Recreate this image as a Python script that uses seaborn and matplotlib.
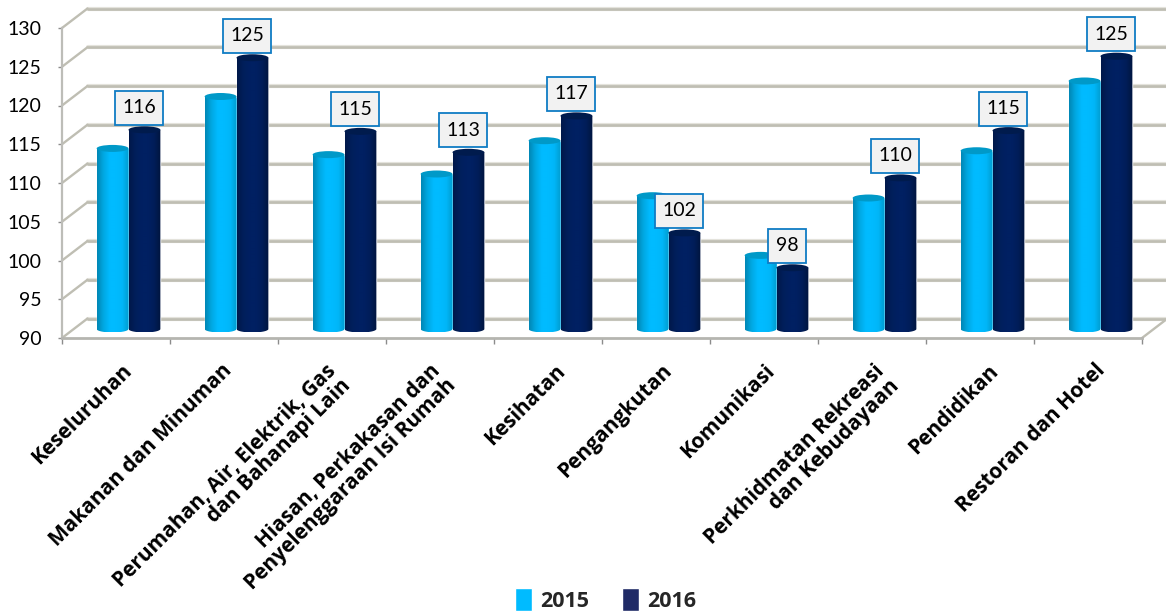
import numpy as np
import pandas as pd
import matplotlib
matplotlib.use("Agg")
import matplotlib.pyplot as plt
import seaborn as sns
from matplotlib.colors import LinearSegmentedColormap
from matplotlib.patches import Ellipse, Rectangle
from matplotlib.path import Path
from matplotlib.transforms import Affine2D, IdentityTransform, ScaledTranslation

categories = ["Keseluruhan", "Makanan dan Minuman",
              "Perumahan, Air, Elektrik, Gas\ndan Bahanapi Lain",
              "Hiasan, Perkakasan dan\nPenyelenggaraan Isi Rumah",
              "Kesihatan", "Pengangkutan", "Komunikasi",
              "Perkhidmatan Rekreasi\ndan Kebudayaan", "Pendidikan", "Restoran dan Hotel"]
values_2015 = [113.3, 120.0, 112.5, 110.0, 114.3, 107.2, 99.5, 106.9, 113.0, 122.0]
values_2016 = [115.7, 125.0, 115.5, 112.8, 117.5, 102.4, 97.9, 109.5, 115.6, 125.2]
labels_2016 = ["116", "125", "115", "113", "117", "102", "98", "110", "115", "125"]
yticks = [90, 95, 100, 105, 110, 115, 120, 125, 130]
years = ["2015", "2016"]
legend_colors = {"2015": "#00BBFF", "2016": "#1F2A66"}
label_nudge_px = [5, -3, -7, -10, 7, 5, 0, 2, 8, 7]

sns.set_theme(style="white")
W, H = 1166, 613
fig = plt.figure(figsize=(W / 100, H / 100), dpi=100)
ax = fig.add_axes([62 / W, (H - 338) / H, 1080 / W, 310 / H])

df = pd.DataFrame({
    "category": categories * 2,
    "value": values_2015 + values_2016,
    "year": [years[0]] * len(categories) + [years[1]] * len(categories),
})
sns.barplot(data=df, x="category", y="value", hue="year", palette=legend_colors,
            width=0.59, gap=0, dodge=True, saturation=1, ax=ax, errorbar=None)
ax.set_xlim(-0.5, 9.5)
ax.set_ylim(90, 130)
ax.set_autoscale_on(False)
ax.set_xlabel("")
ax.set_ylabel("")

# pseudo-3D offsets, in pixels
wall_tf = ax.transData + Affine2D().translate(25.5, 19.5)
bar_tf = ax.transData + Affine2D().translate(12.5, 9)
GRID = "#BFBEB3"

# axes frame
for s in ("top", "right"):
    ax.spines[s].set_visible(False)
ax.spines["left"].set_color("#BDBDB8")
ax.spines["left"].set_linewidth(1.6)
ax.spines["bottom"].set_color("#B5B5B0")
ax.spines["bottom"].set_linewidth(2.0)

ax.set_yticks(yticks)
ax.set_xticks(np.arange(-0.5, 10, 1), minor=True)
ax.tick_params(axis="x", which="minor", length=4, width=1, color="#8C8C8C", bottom=True)
ax.tick_params(axis="x", which="major", length=0, pad=16)
ax.tick_params(axis="y", which="major", length=3, width=1, color="#8C8C8C", left=True, pad=12)
ax.set_yticklabels([str(t) for t in yticks], fontfamily="Lato", fontsize=14, color="black")
ax.set_xticks(range(len(categories)))
ax.set_xticklabels(categories, rotation=45, ha="right", rotation_mode="anchor", ma="right",
                   fontfamily="Open Sans", fontweight="bold", fontsize=15, color="black",
                   linespacing=1.02)
for t, dx in zip(ax.get_xticklabels(), label_nudge_px):
    t.set_transform(t.get_transform() + ScaledTranslation(dx / 100, 0, fig.dpi_scale_trans))

# back wall gridlines and side wall diagonals
for v in yticks:
    ax.plot([-0.5, 9.5], [v, v], transform=wall_tf, color="#E4E3DC", lw=3.0, zorder=0.9, clip_on=False)
    ax.plot([-0.5, 9.5], [v, v], transform=wall_tf, color=GRID, lw=1.9, zorder=1, clip_on=False)
    p0 = ax.transData.transform((-0.5, v))
    p1 = wall_tf.transform((-0.5, v))
    ax.plot([p0[0], p1[0]], [p0[1], p1[1]], transform=IdentityTransform(), color=GRID,
            lw=1.7, zorder=1, clip_on=False)
p0 = ax.transData.transform((9.5, yticks[0]))
p1 = wall_tf.transform((9.5, yticks[0]))
ax.plot([p0[0], p1[0]], [p0[1], p1[1]], transform=IdentityTransform(), color=GRID, lw=1.7,
        zorder=1, clip_on=False)

cmaps = {
    "2015": LinearSegmentedColormap.from_list("c15", ["#0087B5", "#00A8E2", "#00BBFF", "#00BBFF", "#00B6F8", "#009CCF"]),
    "2016": LinearSegmentedColormap.from_list("c16", ["#00184A", "#001F5B", "#002062", "#002062", "#001D58", "#00153F"]),
}
caps = {"2015": "#0099C8", "2016": "#001B4D"}
RY = 3.5
grad = np.linspace(0, 1, 64).reshape(1, -1)
for k, year in enumerate(years):
    for i, bar in enumerate(ax.containers[k]):
        val = bar.get_height()
        x0, w = bar.get_x(), bar.get_width()
        bar.set_y(yticks[0])
        bar.set_height(val - yticks[0])
        bar.set_transform(bar_tf)
        bar.set_clip_on(False)
        bar.set_zorder(3 + k)
        (lx, by) = bar_tf.transform((x0, yticks[0]))
        (rx, ty) = bar_tf.transform((x0 + w, val))
        cx, rxx = (lx + rx) / 2, (rx - lx) / 2
        th = np.linspace(np.pi, 2 * np.pi, 30)
        verts = [(lx, ty)] + list(zip(cx + rxx * np.cos(th), by + RY * np.sin(th))) + [(rx, ty), (lx, ty)]
        im = ax.imshow(grad, cmap=cmaps[year], extent=(lx, rx, by - RY, ty), aspect="auto",
                       transform=IdentityTransform(), zorder=3 + k + 0.1, clip_on=True)
        im.set_clip_path(Path(verts), IdentityTransform())
        ax.add_patch(Ellipse((cx, ty), 2 * rxx, 2 * RY, transform=IdentityTransform(),
                             facecolor=caps[year], edgecolor="none", zorder=3 + k + 0.2, clip_on=False))
        if year == "2016":
            bw = 48 if len(labels_2016[i]) == 3 else 38
            bh = 34
            bxc = cx - 5.5
            b0 = ty + 5
            ax.add_patch(Rectangle((bxc - bw / 2, b0), bw, bh, transform=IdentityTransform(),
                                   facecolor="#F2F2F2", edgecolor="#0F7CC4", lw=1.3, zorder=6, clip_on=False))
            ax.text(bxc, b0 + bh / 2, labels_2016[i], transform=IdentityTransform(), ha="center",
                    va="center", fontfamily="Lato", fontsize=14, color="black", zorder=7, clip_on=False)

# legend
handles, labs = ax.get_legend_handles_labels()
ax.legend(handles, labs, loc="lower left", bbox_to_anchor=(515 / W, 1.0 / H),
          bbox_transform=fig.transFigure, ncols=2, frameon=False, borderpad=0, borderaxespad=0,
          handlelength=0.79, handleheight=1.28, handletextpad=0.37, columnspacing=1.55,
          prop={"family": "Open Sans", "weight": "bold", "size": 15.5})

fig.savefig("out.png", dpi=100, facecolor="white")
